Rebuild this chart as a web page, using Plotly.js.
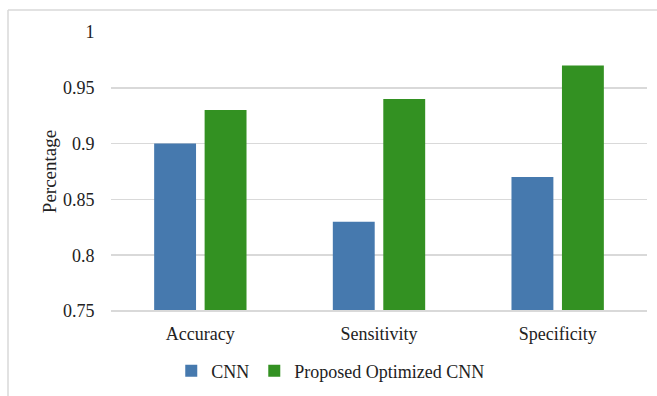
<!DOCTYPE html>
<html>
<head>
<meta charset="utf-8">
<script src="https://cdn.plot.ly/plotly-3.0.1.min.js"></script>
<style>html,body{margin:0;padding:0;background:#fff;}#chart{width:657px;height:396px;}</style>
</head>
<body>
<div id="chart"></div>
<script>
var categories = ["Accuracy", "Sensitivity", "Specificity"];
var cnnValues = [0.90, 0.83, 0.87];
var proposedValues = [0.93, 0.94, 0.97];
var yTickVals = [0.75, 0.8, 0.85, 0.9, 0.95, 1];
var yTickText = ["0.75", "0.8", "0.85", "0.9", "0.95", "1"];

var font = "Liberation Serif, Times New Roman, serif";
var data = [
  {type: "bar", name: "CNN", x: categories, y: cnnValues, marker: {color: "#4679ae"}},
  {type: "bar", name: "Proposed Optimized CNN", x: categories, y: proposedValues, marker: {color: "#339122"}}
];
var layout = {
  width: 657, height: 396,
  margin: {l: 111, r: 10, t: 32, b: 85, autoexpand: false},
  paper_bgcolor: "#fff", plot_bgcolor: "#fff",
  font: {family: font, size: 18, color: "#222"},
  barmode: "group", bargap: 0.435, bargroupgap: 0.17,
  showlegend: true,
  legend: {orientation: "h", x: 0.41, xanchor: "center", y: -0.215, yanchor: "middle",
           font: {family: font, size: 18, color: "#222"}, itemwidth: 30},
  xaxis: {type: "category", showgrid: false, zeroline: false, showline: false,
          ticks: "outside", ticklen: 6, tickcolor: "rgba(0,0,0,0)",
          tickfont: {family: font, size: 18, color: "#222"}},
  yaxis: {range: [0.75, 1], tickvals: yTickVals, ticktext: yTickText,
          showgrid: true, gridcolor: "#d9d9d9", gridwidth: 1.5, zeroline: false, showline: false,
          ticks: "outside", ticklen: 12, tickcolor: "rgba(0,0,0,0)",
          tickfont: {family: font, size: 18, color: "#222"},
          title: {text: "Percentage", font: {family: font, size: 19, color: "#222"}, standoff: 1}},
  shapes: [
    {type: "line", xref: "paper", yref: "paper", x0: 0, x1: 1, y0: 0, y1: 0, line: {color: "#d9d9d9", width: 2}},
    {type: "line", xref: "paper", yref: "paper", x0: (8-111)/536, x1: 1.02, y0: (396-85-10)/279, y1: (396-85-10)/279, line: {color: "#d9d9d9", width: 1.5}},
    {type: "line", xref: "paper", yref: "paper", x0: (8-111)/536, x1: (8-111)/536, y0: (396-85-10)/279, y1: -85/279, line: {color: "#d9d9d9", width: 1.5}}
  ]
};
Plotly.newPlot("chart", data, layout, {displayModeBar: false, staticPlot: true});
</script>
</body>
</html>
